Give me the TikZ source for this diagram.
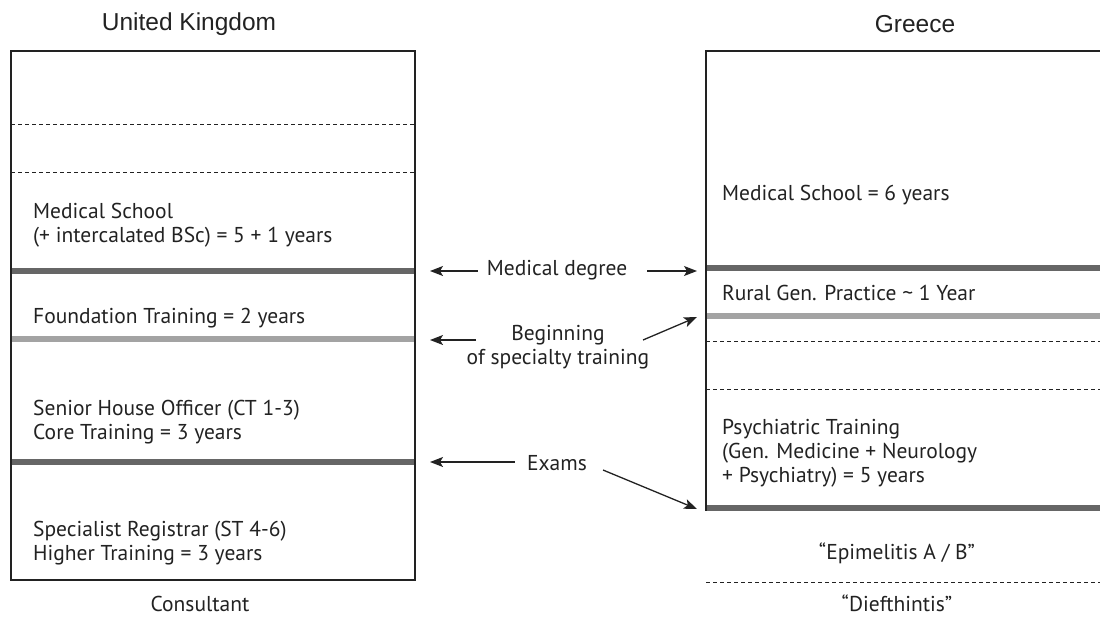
\documentclass[tikz,border=0pt]{standalone}
\usepackage{fontspec}
\setmainfont{PT Sans}
\newfontfamily\titlefont{Liberation Sans}
\usetikzlibrary{arrows.meta}
\definecolor{darkbar}{HTML}{666666}
\definecolor{lightbar}{HTML}{A3A3A3}
\definecolor{ink}{HTML}{222222}
\tikzset{
  frame/.style={draw=ink, line width=1.4pt},
  dashline/.style={draw=ink, line width=0.9pt, dash pattern=on 4pt off 3pt},
  darkline/.style={draw=darkbar, line width=6.5pt},
  lightline/.style={draw=lightbar, line width=6.5pt},
  lbl/.style={text=ink, font=\fontsize{21.5}{24}\selectfont, inner sep=0pt, align=left},
  ctr/.style={text=ink, font=\fontsize{21.5}{24}\selectfont, inner sep=0pt, align=center},
  ttl/.style={text=ink, font=\titlefont\fontsize{24.5}{28}\selectfont, inner sep=0pt},
  arr/.style={draw=ink, line width=1.3pt, -{Stealth[length=13pt,width=10pt,inset=3pt]}}
}
\begin{document}
\begin{tikzpicture}[x=1pt,y=-1pt]
\useasboundingbox (0,0) rectangle (1100,619);
% UK column
\node[ttl] (uk) at (189,24) {United Kingdom};
\draw[dashline] (11,124) -- (415,124);
\draw[dashline] (11,172) -- (415,172);
\draw[darkline] (11,271) -- (415,271);
\draw[lightline] (11,339) -- (415,339);
\draw[darkline] (11,462) -- (415,462);
\draw[frame] (11,51) rectangle (415,580);
\node[lbl, anchor=west] (ukms) at (33,225) {Medical School\\(+ intercalated BSc) = 5 + 1 years};
\node[lbl, anchor=west] (ukft) at (33,318) {Foundation Training = 2 years};
\node[lbl, anchor=west] (ukct) at (33,422) {Senior House Officer (CT 1-3)\\Core Training = 3 years};
\node[lbl, anchor=west] (ukst) at (33,543) {Specialist Registrar (ST 4-6)\\Higher Training = 3 years};
\node[ctr] (cons) at (200,604) {Consultant};
% Greece column
\node[ttl] (gr) at (915,24) {Greece};
\draw[darkline] (706,268) -- (1100,268);
\draw[lightline] (706,316) -- (1100,316);
\draw[dashline] (706,341) -- (1100,341);
\draw[dashline] (706,389) -- (1100,389);
\draw[darkline] (706,508) -- (1100,508);
\draw[frame] (1100,51) -- (706,51) -- (706,511);
\draw[dashline] (706,582) -- (1100,582);
\node[lbl, anchor=west] (grms) at (722,195) {Medical School = 6 years};
\node[lbl, anchor=west] (grrp) at (722,293) {Rural Gen. Practice \textasciitilde{} 1 Year};
\node[lbl, anchor=west] (grpt) at (722,453) {Psychiatric Training\\(Gen. Medicine + Neurology\\+ Psychiatry) = 5 years};
\node[ctr] (epi) at (897,553) {“Epimelitis A / B”};
\node[ctr] (dief) at (897,603) {“Diefthintis”};
% middle labels
\node[ctr] (md) at (557,270) {Medical degree};
\node[ctr] (bst) at (558,347) {Beginning\\of specialty training};
\node[ctr] (ex) at (557,463) {Exams};
\coordinate (mdL) at (430,271);
\coordinate (mdR) at (697,271);
\coordinate (bstL) at (430,340);
\coordinate (bstR) at (697,317);
\coordinate (exL) at (430,462);
\coordinate (exR) at (697,509);
\coordinate (bstS) at (643,340);
\coordinate (exS) at (603,470);
\draw[arr] ([xshift=-9pt]md.west |- mdL) -- (mdL);
\draw[arr] ([xshift=20pt]md.east |- mdR) -- (mdR);
\draw[arr] (bstL -| 476,0) -- (bstL);
\draw[arr] (bstS) -- (bstR);
\draw[arr] ([xshift=-12pt]ex.west |- exL) -- (exL);
\draw[arr] (exS) -- (exR);
\end{tikzpicture}
\end{document}
